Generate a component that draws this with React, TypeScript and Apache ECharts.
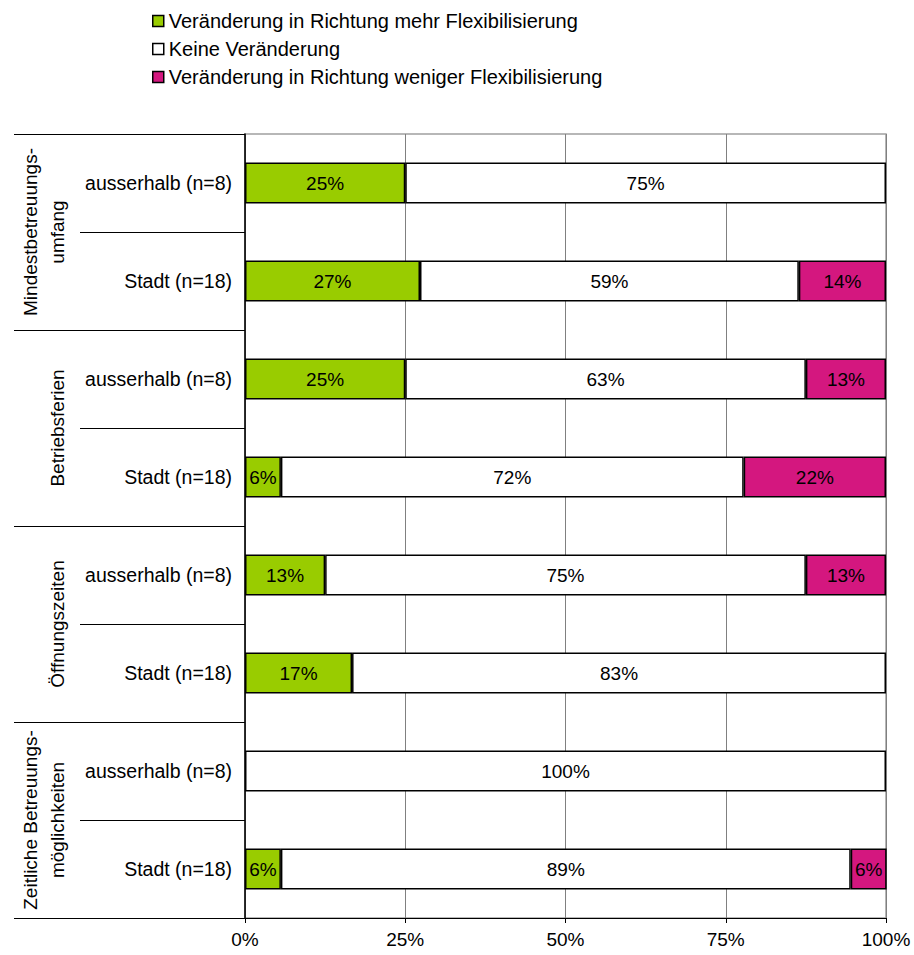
import React, { useEffect, useRef } from "react";
import * as echarts from "echarts";

const rowLabels = [
  "ausserhalb (n=8)",
  "Stadt (n=18)",
  "ausserhalb (n=8)",
  "Stadt (n=18)",
  "ausserhalb (n=8)",
  "Stadt (n=18)",
  "ausserhalb (n=8)",
  "Stadt (n=18)",
];
const groupLabels = [
  "Mindestbetreuungs-\numfang",
  "Betriebsferien",
  "Öffnungszeiten",
  "Zeitliche Betreuungs-\nmöglichkeiten",
];
const seriesNames = [
  "Veränderung in Richtung mehr Flexibilisierung",
  "Keine Veränderung",
  "Veränderung in Richtung weniger Flexibilisierung",
];
const moreFlex = [25, 27.3, 25, 5.6, 12.5, 16.7, 0, 5.6];
const noChange = [75, 59.1, 62.5, 72.2, 75, 83.3, 100, 88.9];
const lessFlex = [0, 13.6, 12.5, 22.2, 12.5, 0, 0, 5.6];
const xTicks = [0, 25, 50, 75, 100];

const colors = ["#99CC00", "#FFFFFF", "#D4177F"];
const FONT = "Liberation Sans, Arial, sans-serif";

export default function App() {
  const ref = useRef<HTMLDivElement>(null);
  useEffect(() => {
    if (!ref.current) return;
    const chart = echarts.init(ref.current, null, { renderer: "svg" });
    const dataSets = [moreFlex, noChange, lessFlex];
    const series = dataSets.map((arr, i) => ({
      name: seriesNames[i],
      type: "bar",
      stack: "total",
      yAxisIndex: 0,
      barWidth: 41,
      data: arr.map((v) => (v > 0 ? v : null)),
      itemStyle: { color: colors[i], borderColor: "#000", borderWidth: 1.5 },
      label: {
        show: true,
        position: "inside",
        color: "#000",
        fontSize: 19,
        fontFamily: FONT,
        formatter: (p: any) => (p.value > 0 ? Math.round(p.value) + "%" : ""),
      },
    }));
    chart.setOption({
      animation: false,
      textStyle: { fontFamily: FONT },
      legend: {
        orient: "vertical",
        left: 147,
        top: 6,
        itemWidth: 11,
        itemHeight: 11,
        itemGap: 8,
        icon: "rect",
        data: seriesNames,
        textStyle: { fontSize: 20, color: "#000", fontFamily: FONT },
        itemStyle: { borderColor: "#000", borderWidth: 1.5 },
      },
      grid: {
        left: 245,
        right: 28,
        top: 134,
        bottom: 37,
        show: true,
        borderColor: "#a0a0a0",
        borderWidth: 1.5,
      },
      xAxis: {
        type: "value",
        min: xTicks[0],
        max: xTicks[xTicks.length - 1],
        interval: 25,
        axisLine: { show: true, lineStyle: { color: "#000", width: 1.2 } },
        axisTick: { show: true, length: 5, lineStyle: { color: "#000" } },
        splitLine: { show: true, lineStyle: { color: "#808080", width: 1 } },
        axisLabel: {
          formatter: "{value}%",
          fontSize: 19,
          color: "#000",
          margin: 12,
          fontFamily: FONT,
        },
      },
      yAxis: [
        {
          type: "category",
          inverse: true,
          data: rowLabels,
          axisLine: { show: true, lineStyle: { color: "#000", width: 1.5 } },
          axisTick: { show: true, length: 165, lineStyle: { color: "#000", width: 1.2 } },
          axisLabel: { fontSize: 19.5, color: "#000", margin: 13, fontFamily: FONT },
        },
        {
          type: "category",
          inverse: true,
          position: "left",
          data: groupLabels,
          axisLine: { show: false },
          axisTick: { show: true, length: 231, lineStyle: { color: "#000", width: 1.2 } },
          axisLabel: { show: false },
        },
      ],
      series,
    });
    const graphics = groupLabels.map((g) => {
      const y = chart.convertToPixel({ yAxisIndex: 1 } as any, g) as number;
      return {
        type: "text",
        x: 71,
        y,
        rotation: Math.PI / 2,
        style: {
          text: g,
          fontSize: 19,
          fontFamily: FONT,
          fill: "#000",
          align: "center",
          verticalAlign: "bottom",
          lineHeight: 27,
        },
      };
    });
    chart.setOption({ graphic: graphics });
    return () => chart.dispose();
  }, []);
  return <div ref={ref} style={{ width: 914, height: 955, position: "absolute", left: 0, top: 0 }} />;
}
